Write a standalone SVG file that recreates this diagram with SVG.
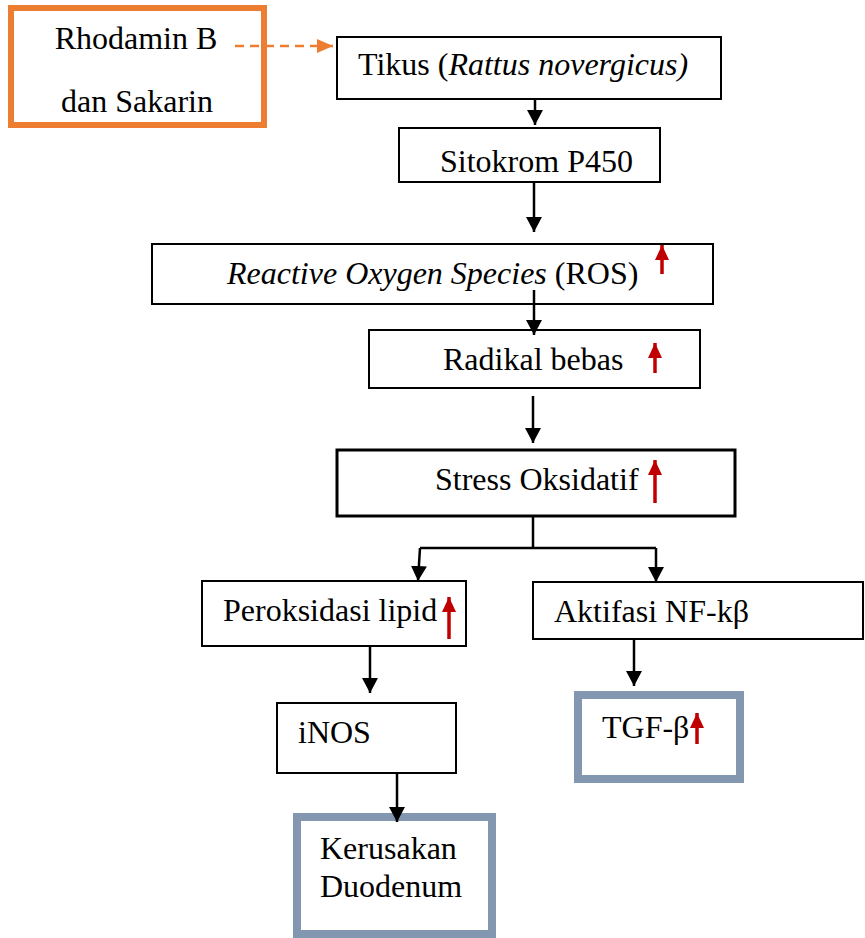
<svg xmlns="http://www.w3.org/2000/svg" width="865" height="938" viewBox="0 0 865 938">
<defs>
<style>
.box{fill:#fff;stroke:#000;stroke-width:2}
.thick{stroke-width:3}
.src{fill:#fff;stroke:#ED7D31;stroke-width:6}
.out{fill:#fff;stroke:#8497B0;stroke-width:8}
text{font-family:"Liberation Serif","Times New Roman",serif;font-size:32px;fill:#000}
.it{font-style:italic}
.con{fill:none;stroke:#000;stroke-width:2.5}
.up{fill:none;stroke:#C00000;stroke-width:3.5}
.dash{fill:none;stroke:#ED7D31;stroke-width:2.5;stroke-dasharray:9 6}
</style>
<marker id="ah" markerUnits="userSpaceOnUse" markerWidth="15" markerHeight="16" refX="15" refY="8" orient="auto">
<path d="M0,0 L15,8 L0,16 z" fill="#000"/>
</marker>
<marker id="ao" markerUnits="userSpaceOnUse" markerWidth="16" markerHeight="14" refX="16" refY="7" orient="auto">
<path d="M0,0 L16,7 L0,14 z" fill="#ED7D31"/>
</marker>
<marker id="ar" markerUnits="userSpaceOnUse" markerWidth="15" markerHeight="14" refX="15" refY="7" orient="auto">
<path d="M0,0 L15,7 L0,14 z" fill="#C00000"/>
</marker>
</defs>
<rect width="865" height="938" fill="#fff"/>

<g id="rhodamin">
<rect class="src" x="11" y="8" width="253" height="117"/>
<text x="136" y="49" text-anchor="middle">Rhodamin B</text>
<text x="137" y="112" text-anchor="middle">dan Sakarin</text>
</g>

<g id="tikus">
<rect class="box" x="337" y="37" width="384" height="62"/>
<text x="358" y="75">Tikus (<tspan class="it">Rattus novergicus)</tspan></text>
</g>

<g id="sitokrom">
<rect class="box" x="399" y="128" width="261" height="54"/>
<text x="440" y="172">Sitokrom P450</text>
</g>

<g id="ros">
<rect class="box" x="152" y="244" width="561" height="60"/>
<text x="227" y="284"><tspan class="it">Reactive Oxygen Species</tspan> (ROS)</text>
<path class="up" d="M662,274 L662,245" marker-end="url(#ar)"/>
</g>

<g id="radikal">
<rect class="box" x="369" y="330" width="331" height="58"/>
<text x="443" y="370">Radikal bebas</text>
<path class="up" d="M655,373 L655,343" marker-end="url(#ar)"/>
</g>

<g id="stress">
<rect class="box thick" x="337" y="450" width="398" height="66"/>
<text x="435" y="490">Stress Oksidatif</text>
<path class="up" d="M655,503 L655,460" marker-end="url(#ar)"/>
</g>

<g id="peroksidasi">
<rect class="box" x="202" y="581" width="264" height="65"/>
<text x="223" y="621">Peroksidasi lipid</text>
<path class="up" d="M449,639 L449,597" marker-end="url(#ar)"/>
</g>

<g id="nfkb">
<rect class="box" x="533" y="582" width="330" height="57"/>
<text x="554" y="622">Aktifasi NF-kβ</text>
</g>

<g id="inos">
<rect class="box" x="277" y="703" width="179" height="70"/>
<text x="298" y="743">iNOS</text>
</g>

<g id="tgf">
<rect class="out" x="578" y="695" width="162" height="84"/>
<text x="602" y="738">TGF-β</text>
<path class="up" d="M697,744 L697,713" marker-end="url(#ar)"/>
</g>

<g id="kerusakan">
<rect class="out" x="297" y="817" width="195" height="117"/>
<text x="320" y="859">Kerusakan</text>
<text x="320" y="897">Duodenum</text>
</g>

<g id="connectors">
<path class="dash" d="M235,46 L333,46" marker-end="url(#ao)"/>
<path class="con" d="M535,99 L535,125" marker-end="url(#ah)"/>
<path class="con" d="M534,182 L534,232" marker-end="url(#ah)"/>
<path class="con" d="M534,290 L534,335" marker-end="url(#ah)"/>
<path class="con" d="M533,396 L533,443" marker-end="url(#ah)"/>
<path class="con" d="M533,516 L533,548"/>
<path class="con" d="M420,548 L656,548"/>
<path class="con" d="M420,548 L418,581" marker-end="url(#ah)"/>
<path class="con" d="M656,548 L656,582" marker-end="url(#ah)"/>
<path class="con" d="M370,646 L370,693" marker-end="url(#ah)"/>
<path class="con" d="M634,639 L634,686" marker-end="url(#ah)"/>
<path class="con" d="M397,773 L397,822" marker-end="url(#ah)"/>
</g>
</svg>
